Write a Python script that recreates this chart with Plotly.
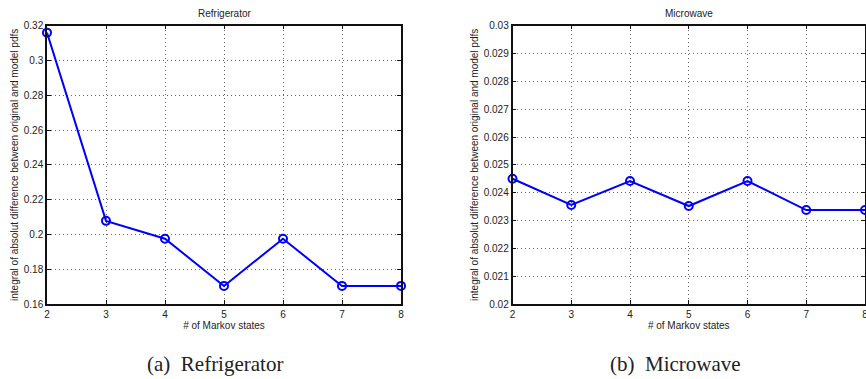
import plotly.graph_objects as go

states = [2, 3, 4, 5, 6, 7, 8]
fridge_vals = [0.316, 0.2078, 0.1975, 0.1704, 0.1975, 0.1704, 0.1704]
micro_vals = [0.02450, 0.02356, 0.02442, 0.02352, 0.02442, 0.023375, 0.023375]
fridge_yticks = [0.16, 0.18, 0.2, 0.22, 0.24, 0.26, 0.28, 0.3, 0.32]
fridge_ytext = ["0.16", "0.18", "0.2", "0.22", "0.24", "0.26", "0.28", "0.3", "0.32"]
micro_yticks = [0.02, 0.021, 0.022, 0.023, 0.024, 0.025, 0.026, 0.027, 0.028, 0.029, 0.03]
micro_ytext = ["0.02", "0.021", "0.022", "0.023", "0.024", "0.025", "0.026", "0.027", "0.028", "0.029", "0.03"]
titles = ["Refrigerator", "Microwave"]
captions = ["(a)  Refrigerator", "(b)  Microwave"]
xlabel = "# of Markov states"
ylabel = "integral of absolut difference between original and model pdfs"

W, H = 866, 379
fig = go.Figure()

blue = "#0000FF"
font = "Liberation Sans, Arial, sans-serif"

doms_x = [[47/W, 401/W], [512.5/W, 865/W]]
dom_y = [1 - 304/H, 1 - 25.7/H]

series = [fridge_vals, micro_vals]
ranges = [[0.16, 0.32], [0.02, 0.03]]
yt = [(fridge_yticks, fridge_ytext), (micro_yticks, micro_ytext)]

for i in range(2):
    xa = "x" if i == 0 else "x2"
    ya = "y" if i == 0 else "y2"
    fig.add_trace(go.Scatter(
        x=states, y=series[i], mode="lines+markers",
        line=dict(color=blue, width=2),
        marker=dict(symbol="circle-open", size=8, color=blue, line=dict(width=2, color=blue)),
        xaxis=xa, yaxis=ya, showlegend=False, cliponaxis=False, hoverinfo="skip"))
    axis_common = dict(
        showline=True, linecolor="#111", linewidth=1.5, mirror="ticks",
        ticks="inside", ticklen=4, tickcolor="#111",
        showgrid=True, gridcolor="rgba(0,0,0,0.6)", griddash="1px,3px", gridwidth=1,
        zeroline=False, tickfont=dict(family=font, size=10, color="#222"),
        automargin=False, ticklabeloverflow="allow",
    )
    fig.layout["xaxis" + ("" if i == 0 else "2")] = go.layout.XAxis(
        domain=doms_x[i], range=[2, 8], tickvals=states,
        anchor=ya, title=dict(text=xlabel, font=dict(family=font, size=10, color="#222"), standoff=2),
        **axis_common)
    fig.layout["yaxis" + ("" if i == 0 else "2")] = go.layout.YAxis(
        domain=dom_y, range=ranges[i], tickvals=yt[i][0], ticktext=yt[i][1],
        anchor=xa, title=dict(text=ylabel, font=dict(family=font, size=10, color="#222"), standoff=3),
        **axis_common)
    cx = (doms_x[i][0] + doms_x[i][1]) / 2
    fig.add_annotation(text=titles[i], x=cx, y=1 - 14/H, xref="paper", yref="paper",
                       showarrow=False, font=dict(family=font, size=10, color="#222"),
                       xanchor="center", yanchor="middle")

fig.add_annotation(text=captions[0], x=215/W, y=1 - 364/H, xref="paper", yref="paper",
                   showarrow=False, font=dict(family="Liberation Serif, serif", size=21, color="#222"),
                   xanchor="center", yanchor="middle")
fig.add_annotation(text=captions[1], x=675/W, y=1 - 364/H, xref="paper", yref="paper",
                   showarrow=False, font=dict(family="Liberation Serif, serif", size=21, color="#222"),
                   xanchor="center", yanchor="middle")

fig.update_layout(width=W, height=H, margin=dict(l=0, r=0, t=0, b=0, autoexpand=False),
                  plot_bgcolor="white", paper_bgcolor="white", hovermode=False)

fig.write_html("out.html", config={"displayModeBar": False},
               post_script="document.body.style.margin='0';document.body.style.overflow='hidden';")
